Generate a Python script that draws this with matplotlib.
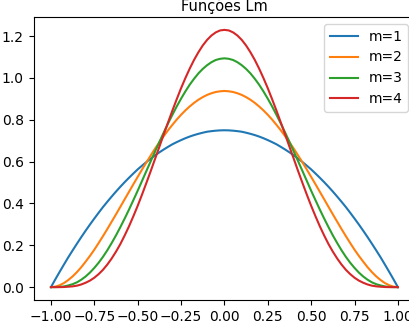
import numpy as np
import matplotlib
matplotlib.use("Agg")
import matplotlib.pyplot as plt

# half curves sampled at x = 0, 0.025, ..., 1 (curves are symmetric about x = 0)
x_half = [0.000, 0.025, 0.050, 0.075, 0.100, 0.125, 0.150, 0.175, 0.200, 0.225,
          0.250, 0.275, 0.300, 0.325, 0.350, 0.375, 0.400, 0.425, 0.450, 0.475,
          0.500, 0.525, 0.550, 0.575, 0.600, 0.625, 0.650, 0.675, 0.700, 0.725,
          0.750, 0.775, 0.800, 0.825, 0.850, 0.875, 0.900, 0.925, 0.950, 0.975, 1.000]
m1_half = [0.750, 0.7495, 0.748, 0.7458, 0.743, 0.7383, 0.733, 0.7270, 0.720, 0.7120,
           0.703, 0.6933, 0.683, 0.6708, 0.658, 0.6445, 0.630, 0.6145, 0.598, 0.5808,
           0.563, 0.5433, 0.523, 0.5020, 0.480, 0.4570, 0.433, 0.4083, 0.383, 0.3558,
           0.328, 0.2995, 0.270, 0.2395, 0.208, 0.1758, 0.143, 0.1083, 0.073, 0.0370, 0.0]
m2_half = [0.938, 0.9363, 0.933, 0.9270, 0.919, 0.9084, 0.896, 0.8810, 0.864, 0.8450,
           0.824, 0.8011, 0.776, 0.7499, 0.722, 0.6924, 0.662, 0.6294, 0.596, 0.5622,
           0.527, 0.4919, 0.456, 0.4201, 0.384, 0.3481, 0.313, 0.2778, 0.244, 0.2110,
           0.179, 0.1495, 0.122, 0.0956, 0.072, 0.0515, 0.034, 0.0195, 0.009, 0.0023, 0.0]
m3_half = [1.094, 1.0917, 1.086, 1.0754, 1.061, 1.0433, 1.022, 0.9963, 0.968, 0.9359,
           0.901, 0.8639, 0.824, 0.7825, 0.739, 0.6942, 0.648, 0.6017, 0.555, 0.5079,
           0.461, 0.4157, 0.371, 0.3280, 0.287, 0.2475, 0.211, 0.1764, 0.145, 0.1168,
           0.092, 0.0697, 0.051, 0.0356, 0.023, 0.0141, 0.008, 0.0033, 0.001, 0.0001, 0.0]
m4_half = [1.230, 1.2274, 1.218, 1.2030, 1.182, 1.1553, 1.123, 1.0865, 1.045, 0.9996,
           0.951, 0.8984, 0.844, 0.7873, 0.730, 0.6711, 0.613, 0.5546, 0.498, 0.4425,
           0.389, 0.3388, 0.291, 0.2470, 0.206, 0.1697, 0.137, 0.1081, 0.083, 0.0623,
           0.045, 0.0313, 0.021, 0.0128, 0.007, 0.0037, 0.002, 0.0005, 0.000, 0.0000, 0.0]
labels = ["m=1", "m=2", "m=3", "m=4"]


def full(half, sign=1):
    h = np.array(half)
    return np.concatenate([sign * h[:0:-1], h])


x = full(x_half, -1)

fig = plt.figure(figsize=(4.09, 3.26), dpi=100)
ax = fig.add_axes([0.0822, 0.0798, 0.933, 0.868])
for ys, lab in zip([m1_half, m2_half, m3_half, m4_half], labels):
    ax.plot(x, full(ys), label=lab)
ax.set_title("Funções Lm", fontsize=10.5, pad=4)
ax.legend(loc="upper right")
fig.savefig("out.png", dpi=100)
